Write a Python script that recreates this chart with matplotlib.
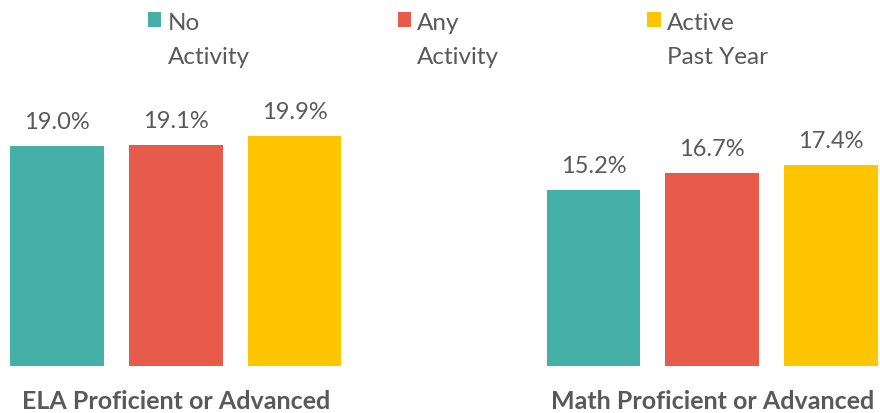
import matplotlib.pyplot as plt
import numpy as np

plt.rcParams['font.family'] = ['Lato', 'DejaVu Sans']

# data
groups = ['ELA Proficient or Advanced', 'Math Proficient or Advanced']
series = ['No\nActivity', 'Any\nActivity', 'Active\nPast Year']
no_activity = [19.0, 15.2]
any_activity = [19.1, 16.7]
active_past_year = [19.9, 17.4]

colors = ['#45B0A8', '#E85B4B', '#FFC500']
text_color = '#595959'

fig = plt.figure(figsize=(8.8, 4.14), dpi=100)
ax = fig.add_axes([0, 0, 1, 1])

group_x = np.array([0, 4.517])
bar_w = 0.79
values = [no_activity, any_activity, active_past_year]

for i, (vals, lab, col) in enumerate(zip(values, series, colors)):
    bars = ax.bar(group_x + i, vals, width=bar_w, color=col, label=lab)
    for b, v in zip(bars, vals):
        ax.annotate(f'{v:.1f}%', (b.get_x() + b.get_width() / 2, v),
                    xytext=(0, 10), textcoords='offset points',
                    ha='center', va='bottom', fontsize=17, color=text_color)

for gx, name in zip(group_x, groups):
    ax.text(gx + 1, -2.95, name, ha='center', va='center', fontsize=18,
            fontweight='bold', color=text_color)

ax.set_xlim(-0.48, 6.93)
ax.set_ylim(-4.06, 31.7)
ax.axis('off')

leg = ax.legend(loc='upper left', bbox_to_anchor=(148 / 880, 1 - 13 / 414),
                ncol=3, frameon=False, fontsize=17.5, handlelength=0.55,
                handleheight=0.55, handletextpad=0.25, columnspacing=6.1,
                borderpad=0, borderaxespad=0, labelcolor=text_color)
for t in leg.get_texts():
    t.set_linespacing(1.75)
# put the colour square next to the first line of each label
for col in leg._legend_handle_box.get_children():
    for row in col.get_children():
        row.align = 'top'

fig.savefig('out.png', dpi=100)
